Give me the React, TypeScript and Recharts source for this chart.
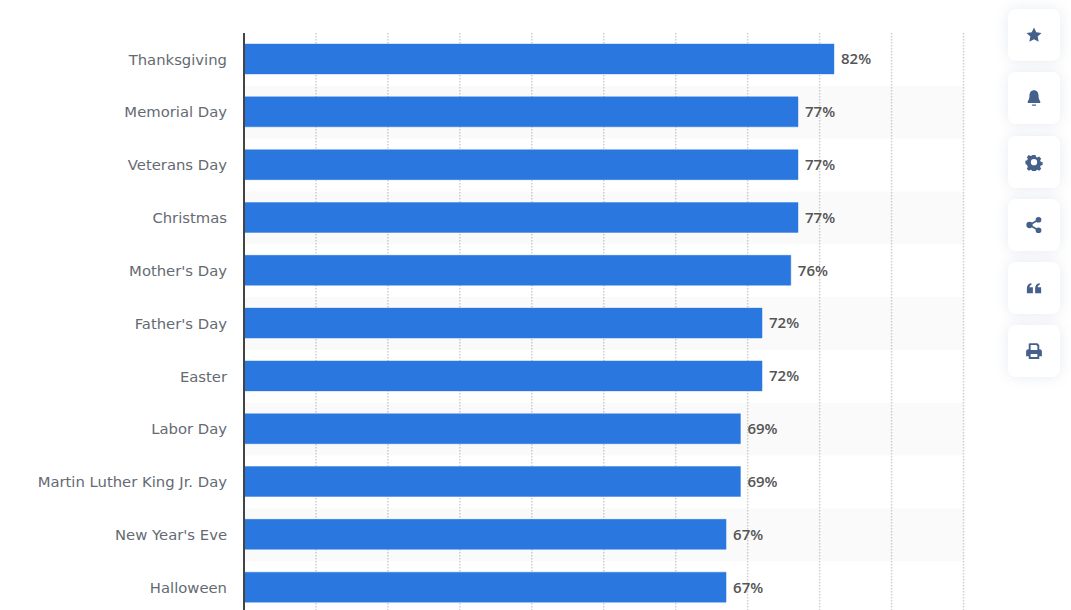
import { BarChart, Bar, XAxis, YAxis, CartesianGrid, LabelList, ReferenceArea } from 'recharts'

const holidays = [
  'Thanksgiving',
  'Memorial Day',
  'Veterans Day',
  'Christmas',
  "Mother's Day",
  "Father's Day",
  'Easter',
  'Labor Day',
  'Martin Luther King Jr. Day',
  "New Year's Eve",
  'Halloween',
]
const shares = [82, 77, 77, 77, 76, 72, 72, 69, 69, 67, 67]
const xTicks = [0, 10, 20, 30, 40, 50, 60, 70, 80, 90, 100]

const chartData = holidays.map((name, i) => ({ name, value: shares[i] }))
const stripes = holidays.filter((_, i) => i % 2 === 1)

const iconColor = '#45608a'

// sidebar buttons, icons in a 24 box
const sideIcons = [
  <path key="star" d="M12 2l3 6.400 7 .9-5.100 4.800 1.300 6.900L12 17.600 5.800 21l1.300-6.900L2 9.300l7-.9z" />,
  <g key="bell">
    <path d="M12 1.500c3.800 0 6 3 6 6.900 0 4 1 6.300 2.300 7.900v2.200H3.700v-2.200C5 14.700 6 12.400 6 8.400c0-3.900 2.200-6.900 6-6.900z" />
    <rect x="9" y="20.500" width="6" height="1.800" rx="0.900" />
  </g>,
  <path
    key="gear"
    fillRule="evenodd"
    d="M10 2.500h4l.7 2.700 1.800.8 2.400-1.400 2.700 2.900-1.400 2.300.8 1.800 2.500.7v3.800l-2.500.7-.8 1.800 1.400 2.300-2.700 2.900-2.400-1.400-1.800.8-.7 2.600h-4l-.7-2.600-1.800-.8-2.400 1.400-2.700-2.900 1.400-2.300-.8-1.800L.5 14.100v-3.800l2.500-.7.8-1.800-1.400-2.300 2.700-2.900 2.400 1.400 1.800-.8zM12 8a4.200 4.200 0 1 0 0 8.400A4.200 4.200 0 0 0 12 8z"
  />,
  <g key="share">
    <circle cx="18" cy="5" r="3.800" />
    <circle cx="18" cy="19" r="3.800" />
    <circle cx="6" cy="12" r="4.200" />
    <path d="M6 12L18 5M6 12l12 7" stroke={iconColor} strokeWidth="2.200" />
  </g>,
  <g key="quote">
    <path d="M2.500 12.500c0-4 2-6.500 6-7.300v2.800c-1.700.5-2.400 1.500-2.500 3H10.500v8H2.500z" />
    <path d="M13.500 12.500c0-4 2-6.500 6-7.300v2.800c-1.700.5-2.400 1.500-2.500 3h4.500v8h-8z" />
  </g>,
  <path
    key="print"
    fillRule="evenodd"
    d="M6 1.500h10.500L19 4v5.500h.5A3 3 0 0 1 22.500 12.500v6.500H19v3.500H5V19H1.500v-6.500a3 3 0 0 1 3-3H5V2.500zM7.500 4v6.500h9V5.500L15 4zM7.500 16v4h9v-4z"
  />,
]
const sideTops = [9, 72, 136, 199, 262, 325]

export default function App() {
  return (
    <div style={{ position: 'absolute', left: 0, top: 0, width: 1071, height: 610, overflow: 'hidden', background: '#fff' }}>
      <BarChart
        width={1071}
        height={614}
        data={chartData}
        layout="vertical"
        barSize={30}
        margin={{ top: 33, right: 107.500, bottom: 0, left: 0 }}
      >
        <CartesianGrid vertical horizontal={false} stroke="#cfcfcf" strokeWidth={1.5} strokeDasharray="1.5 1.5" />
        <XAxis type="number" domain={[0, 100]} ticks={xTicks} hide />
        <YAxis
          type="category"
          dataKey="name"
          width={244}
          interval={0}
          axisLine={{ stroke: '#444', strokeWidth: 2 }}
          tickLine={false}
          tickMargin={11}
          tick={{ fontFamily: '"DejaVu Sans", sans-serif', fontSize: 14.800, fill: '#656a72' }}
        />
        {stripes.map((name) => (
          <ReferenceArea key={name} y1={name} y2={name} fill="#000" fillOpacity={0.02} stroke="none" />
        ))}
        <Bar dataKey="value" fill="#2977df" stroke="#2977df" strokeOpacity={0.4} isAnimationActive={false}>
          <LabelList
            dataKey="value"
            position="right"
            offset={7}
            formatter={(v: number) => `${v}%`}
            style={{ fontFamily: '"Open Sans", sans-serif', fontSize: 15, fontWeight: 600, fill: '#555' }}
          />
        </Bar>
      </BarChart>
      {sideIcons.map((icon, i) => (
        <div
          key={i}
          style={{
            position: 'absolute',
            left: 1008,
            top: sideTops[i],
            width: 52,
            height: 52,
            borderRadius: 8,
            background: '#fff',
            boxShadow: '0 0 14px rgba(70, 96, 138, 0.13)',
            display: 'flex',
            alignItems: 'center',
            justifyContent: 'center',
          }}
        >
          <svg width={18} height={18} viewBox="0 0 24 24" fill={iconColor}>
            {icon}
          </svg>
        </div>
      ))}
    </div>
  )
}
